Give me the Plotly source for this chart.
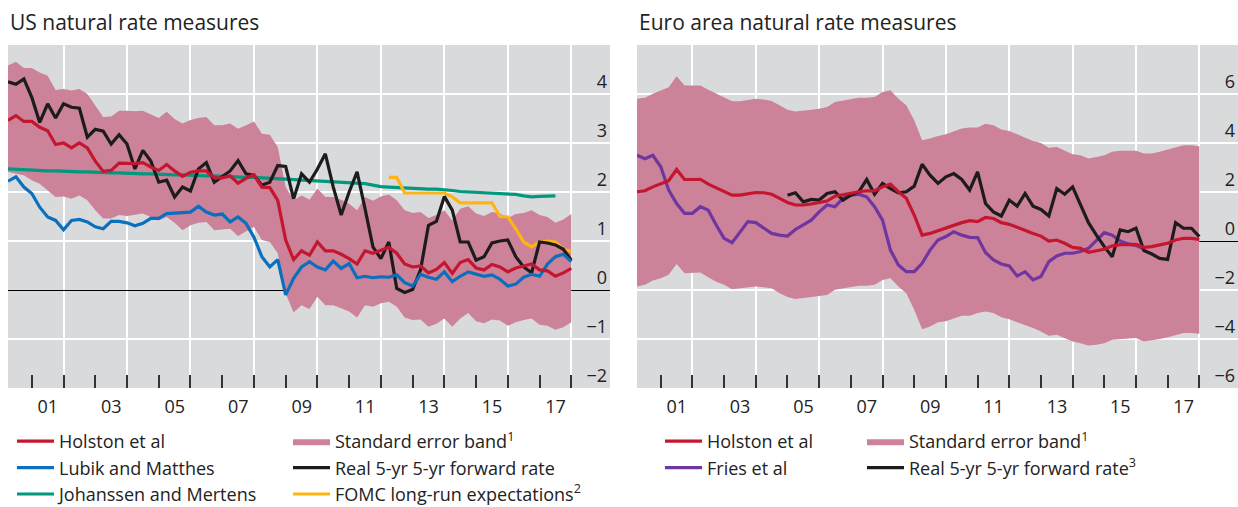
import pandas as pd
import plotly.graph_objects as go

# ---------------- time axis (quarterly, plotted at quarter end) ----------------
quarters = pd.period_range("2000Q1", "2017Q4", freq="Q")
t = [p.year + p.quarter / 4 for p in quarters]

# ---------------- US natural rate measures ----------------
us_holston = [3.46, 3.56, 3.44, 3.44, 3.32, 3.25, 2.97, 3.00, 2.90, 3.00,
              2.90, 2.63, 2.42, 2.44, 2.59, 2.58, 2.58, 2.60, 2.51, 2.44,
              2.56, 2.43, 2.32, 2.40, 2.43, 2.43, 2.29, 2.29, 2.33, 2.18,
              2.28, 2.35, 2.10, 2.09, 1.83, 1.02, 0.62, 0.80, 0.71, 0.98,
              0.80, 0.80, 0.73, 0.64, 0.53, 0.80, 0.75, 0.81, 0.87, 0.75,
              0.53, 0.47, 0.49, 0.35, 0.42, 0.56, 0.34, 0.56, 0.62, 0.45,
              0.41, 0.52, 0.47, 0.37, 0.45, 0.49, 0.53, 0.41, 0.39, 0.28,
              0.35, 0.44]
us_lubik = [2.22, 2.31, 2.10, 1.97, 1.69, 1.49, 1.42, 1.23, 1.42, 1.44,
            1.39, 1.29, 1.25, 1.40, 1.40, 1.37, 1.31, 1.36, 1.46, 1.46,
            1.56, 1.57, 1.59, 1.59, 1.71, 1.59, 1.53, 1.55, 1.39, 1.49,
            1.36, 1.08, 0.68, 0.47, 0.62, -0.10, 0.24, 0.47, 0.58, 0.47,
            0.41, 0.59, 0.44, 0.54, 0.25, 0.28, 0.25, 0.27, 0.26, 0.31,
            0.15, 0.08, 0.32, 0.26, 0.22, 0.37, 0.17, 0.28, 0.37, 0.32,
            0.28, 0.31, 0.22, 0.08, 0.12, 0.26, 0.32, 0.28, 0.53, 0.68,
            0.73, 0.58]
us_johanssen = [2.47, 2.46, 2.45, 2.45, 2.44, 2.43, 2.43, 2.42, 2.42, 2.41,
                2.41, 2.40, 2.40, 2.39, 2.39, 2.38, 2.38, 2.37, 2.37, 2.36,
                2.36, 2.35, 2.35, 2.34, 2.34, 2.33, 2.33, 2.32, 2.32, 2.31,
                2.30, 2.30, 2.29, 2.28, 2.27, 2.26, 2.25, 2.24, 2.24, 2.23,
                2.22, 2.21, 2.20, 2.19, 2.18, 2.17, 2.14, 2.11, 2.10, 2.09,
                2.08, 2.07, 2.07, 2.06, 2.06, 2.05, 2.03, 2.01, 2.00, 1.99,
                1.98, 1.97, 1.97, 1.96, 1.95, 1.92, 1.90, 1.91, 1.92, 1.92]
us_fomc = [2.30, 2.30, 1.98, 1.98, 1.98, 1.98, 1.98, 1.98, 1.90, 1.78,
           1.78, 1.78, 1.78, 1.78, 1.50, 1.49, 1.25, 0.98, 0.88, 0.98,
           1.00, 0.98, 0.83, 0.79]
us_fwd = [4.25, 4.20, 4.31, 3.93, 3.42, 3.80, 3.51, 3.80, 3.73, 3.71,
          3.12, 3.28, 3.24, 2.98, 3.17, 2.98, 2.47, 2.85, 2.63, 2.20,
          2.24, 1.90, 2.10, 2.02, 2.47, 2.60, 2.20, 2.31, 2.43, 2.64,
          2.37, 2.34, 2.14, 2.20, 2.54, 2.52, 1.86, 2.37, 2.20, 2.47,
          2.78, 2.10, 1.53, 2.00, 2.41, 1.66, 0.88, 0.64, 0.98, 0.03,
          -0.05, 0.01, 0.41, 1.32, 1.40, 1.91, 1.63, 0.98, 0.98, 0.61,
          0.68, 0.96, 1.00, 1.02, 0.68, 0.47, 0.35, 0.98, 0.96, 0.92,
          0.83, 0.61]
us_band_upper = [4.58, 4.66, 4.53, 4.53, 4.44, 4.37, 4.08, 4.10, 4.07, 4.10,
                 4.00, 3.76, 3.53, 3.54, 3.66, 3.66, 3.65, 3.66, 3.58, 3.51,
                 3.64, 3.49, 3.40, 3.47, 3.51, 3.53, 3.36, 3.36, 3.40, 3.29,
                 3.36, 3.44, 3.19, 3.17, 2.92, 2.10, 1.83, 1.93, 1.84, 2.07,
                 1.90, 1.90, 1.84, 1.76, 1.63, 1.90, 1.82, 1.91, 1.95, 1.83,
                 1.63, 1.57, 1.59, 1.47, 1.53, 1.63, 1.42, 1.66, 1.71, 1.56,
                 1.51, 1.59, 1.56, 1.47, 1.55, 1.57, 1.63, 1.53, 1.49, 1.37,
                 1.44, 1.55]
us_band_lower = [2.41, 2.37, 2.34, 2.24, 2.17, 2.03, 1.90, 1.91, 1.86, 1.93,
                 1.83, 1.63, 1.46, 1.46, 1.53, 1.51, 1.53, 1.56, 1.49, 1.42,
                 1.49, 1.37, 1.22, 1.32, 1.37, 1.39, 1.22, 1.23, 1.25, 1.10,
                 1.19, 1.29, 1.02, 0.98, 0.75, -0.07, -0.46, -0.31, -0.39, -0.14,
                 -0.31, -0.31, -0.37, -0.44, -0.56, -0.31, -0.34, -0.27, -0.24, -0.34,
                 -0.56, -0.61, -0.60, -0.75, -0.69, -0.58, -0.75, -0.58, -0.47, -0.64,
                 -0.68, -0.60, -0.62, -0.73, -0.66, -0.61, -0.58, -0.71, -0.73, -0.81,
                 -0.76, -0.66]

# ---------------- Euro area natural rate measures ----------------
ea_holston = [2.01, 2.05, 2.21, 2.35, 2.46, 2.92, 2.51, 2.51, 2.52, 2.32,
              2.17, 2.05, 1.87, 1.87, 1.94, 1.98, 1.97, 1.91, 1.74, 1.57,
              1.47, 1.47, 1.51, 1.56, 1.63, 1.83, 1.90, 1.97, 2.01, 2.05,
              2.05, 2.21, 2.32, 2.01, 1.74, 1.06, 0.24, 0.31, 0.42, 0.56,
              0.65, 0.75, 0.83, 0.79, 0.96, 0.92, 0.75, 0.68, 0.56, 0.42,
              0.31, 0.20, 0.00, 0.04, -0.09, -0.26, -0.30, -0.46, -0.39, -0.34,
              -0.20, -0.15, -0.15, -0.14, -0.26, -0.23, -0.16, -0.09, 0.04, 0.11,
              0.11, 0.07]
ea_fries = [3.50, 3.36, 3.50, 3.03, 2.08, 1.53, 1.13, 1.13, 1.40, 1.26,
            0.65, 0.11, -0.07, 0.38, 0.79, 0.75, 0.52, 0.31, 0.24, 0.20,
            0.47, 0.65, 0.85, 1.19, 1.47, 1.40, 1.74, 1.87, 1.91, 1.80,
            1.40, 0.85, -0.37, -0.98, -1.25, -1.25, -0.91, -0.37, 0.04, 0.18,
            0.38, 0.24, 0.15, 0.14, -0.47, -0.77, -0.94, -1.02, -1.43, -1.25,
            -1.59, -1.45, -0.84, -0.61, -0.50, -0.50, -0.43, -0.30, 0.04, 0.34,
            0.24, 0.00, -0.12, -0.18, -0.33]
ea_fwd = [1.87, 1.97, 1.60, 1.70, 1.67, 1.94, 2.01, 1.67, 1.87, 2.01,
          2.51, 1.91, 2.35, 2.14, 1.97, 2.01, 2.24, 3.13, 2.69, 2.35,
          2.62, 2.75, 2.51, 2.08, 2.82, 1.53, 1.19, 1.02, 1.67, 1.42,
          1.94, 1.42, 1.29, 1.02, 2.14, 1.91, 2.21, 1.47, 0.75, 0.24,
          -0.23, -0.64, 0.45, 0.38, 0.52, -0.39, -0.53, -0.71, -0.75, 0.75,
          0.52, 0.52, 0.18]
ea_band_upper = [5.81, 5.85, 6.01, 6.15, 6.28, 6.72, 6.35, 6.35, 6.35, 6.17,
                 6.01, 5.88, 5.70, 5.70, 5.77, 5.81, 5.78, 5.71, 5.54, 5.36,
                 5.29, 5.31, 5.36, 5.40, 5.47, 5.67, 5.74, 5.81, 5.85, 5.85,
                 5.88, 6.08, 6.15, 5.81, 5.54, 4.93, 4.11, 4.18, 4.29, 4.36,
                 4.49, 4.59, 4.63, 4.63, 4.79, 4.72, 4.55, 4.49, 4.36, 4.22,
                 4.08, 4.00, 3.81, 3.84, 3.70, 3.54, 3.50, 3.37, 3.43, 3.50,
                 3.64, 3.68, 3.68, 3.68, 3.57, 3.57, 3.64, 3.73, 3.84, 3.91,
                 3.91, 3.87]
ea_band_lower = [-1.86, -1.79, -1.61, -1.52, -1.38, -0.94, -1.32, -1.32, -1.29, -1.48,
                 -1.66, -1.79, -1.97, -1.93, -1.89, -1.86, -1.89, -1.93, -2.13, -2.29,
                 -2.37, -2.33, -2.29, -2.27, -2.20, -1.99, -1.93, -1.86, -1.83, -1.83,
                 -1.79, -1.59, -1.52, -1.86, -2.13, -2.81, -3.60, -3.49, -3.32, -3.28,
                 -3.15, -3.05, -3.05, -2.94, -2.88, -2.94, -3.11, -3.19, -3.32, -3.42,
                 -3.55, -3.69, -3.87, -3.83, -3.96, -4.10, -4.17, -4.27, -4.23, -4.17,
                 -4.03, -4.00, -4.00, -3.96, -4.10, -4.06, -4.00, -3.93, -3.83, -3.76,
                 -3.76, -3.79]

# tick labels
year_ticks = [2001, 2003, 2005, 2007, 2009, 2011, 2013, 2015, 2017]
year_labels = ["01", "03", "05", "07", "09", "11", "13", "15", "17"]
grid_years = [2002, 2004, 2006, 2008, 2010, 2012, 2014, 2016, 2018]
us_yticks = [-2, -1, 0, 1, 2, 3, 4]
ea_yticks = [-6, -4, -2, 0, 2, 4, 6]

# ---------------- style ----------------
FONT = "Open Sans"
TXT = "#222222"
BG = "#D9DADC"
BAND = "#CC8298"
RED = "#C4162F"
BLUE = "#0A70BE"
GREEN = "#00997F"
ORANGE = "#FDB515"
BLACK = "#1C1C1C"
PURPLE = "#7036A0"
LW = 3.2

fig = go.Figure()


def band(x, lo, hi, xa, ya, legend):
    fig.add_trace(go.Scatter(x=x, y=lo, mode="lines", line=dict(width=0, color=BAND),
                             xaxis=xa, yaxis=ya, showlegend=False, hoverinfo="skip"))
    fig.add_trace(go.Scatter(x=x, y=hi, mode="lines", line=dict(width=0, color=BAND),
                             fill="tonexty", fillcolor=BAND, xaxis=xa, yaxis=ya,
                             name="Standard error band<sup>1</sup>", legend=legend,
                             legendrank=1))


def line(x, y, color, name, xa, ya, legend, rank):
    fig.add_trace(go.Scatter(x=x, y=y, mode="lines", line=dict(color=color, width=LW),
                             name=name, xaxis=xa, yaxis=ya, legend=legend,
                             legendrank=rank))


# US panel
band(t, us_band_lower, us_band_upper, "x", "y", "legend2")
line(t[:len(us_johanssen)], us_johanssen, GREEN, "Johanssen and Mertens", "x", "y", "legend", 3)
line(t[48:48 + len(us_fomc)], us_fomc, ORANGE, "FOMC long-run expectations<sup>2</sup>", "x", "y", "legend2", 3)
line(t, us_fwd, BLACK, "Real 5-yr 5-yr forward rate", "x", "y", "legend2", 2)
line(t, us_lubik, BLUE, "Lubik and Matthes", "x", "y", "legend", 2)
line(t, us_holston, RED, "Holston et al", "x", "y", "legend", 1)

# Euro area panel
band(t, ea_band_lower, ea_band_upper, "x2", "y2", "legend4")
line(t[:len(ea_fries)], ea_fries, PURPLE, "Fries et al", "x2", "y2", "legend3", 2)
line(t[19:19 + len(ea_fwd)], ea_fwd, BLACK, "Real 5-yr 5-yr forward rate<sup>3</sup>", "x2", "y2", "legend4", 2)
line(t, ea_holston, RED, "Holston et al", "x2", "y2", "legend3", 1)

W, H = 1238, 507
ML, MR, MT, MB = 8, 0, 45, 119
PW = W - ML - MR
PH = H - MT - MB


def px_x(p):
    return (p - ML) / PW


def px_y(p):
    return (H - MB - p) / PH


xaxis_common = dict(
    range=[2000.25, 2019.22],
    tickmode="array", tickvals=year_ticks, ticktext=year_labels,
    ticks="inside", ticklen=13, tickwidth=1.5, tickcolor="#333333",
    ticklabelshift=16, ticklabelstandoff=6,
    showgrid=False, zeroline=False, showline=False, automargin=False,
    tickfont=dict(family=FONT, size=18, color=TXT),
    minor=dict(tickmode="array", tickvals=grid_years, ticks="inside", ticklen=13,
               tickwidth=1.5, tickcolor="#333333", showgrid=True,
               gridcolor="white", gridwidth=1.5),
    fixedrange=True,
)
yaxis_common = dict(
    side="right", ticks="", ticklabelposition="inside top",
    showgrid=True, gridcolor="white", gridwidth=1.5,
    zeroline=True, zerolinecolor="black", zerolinewidth=1.2,
    showline=False, automargin=False, tickfont=dict(family=FONT, size=18, color=TXT),
    fixedrange=True,
)

legend_common = dict(
    orientation="v", xanchor="left", yanchor="top", traceorder="normal",
    bgcolor="rgba(0,0,0,0)", borderwidth=0,
    font=dict(family=FONT, size=18, color=TXT),
    itemwidth=37, tracegroupgap=0,
)
leg_top = px_y(423)

fig.update_layout(
    width=W, height=H,
    margin=dict(l=ML, r=MR, t=MT, b=MB, autoexpand=False),
    paper_bgcolor="white", plot_bgcolor=BG,
    font=dict(family=FONT, color=TXT),
    xaxis=dict(domain=[0, px_x(610)], anchor="y", **xaxis_common),
    xaxis2=dict(domain=[px_x(637), 1], anchor="y2", **xaxis_common),
    yaxis=dict(domain=[0, 1], anchor="x", range=[-2, 5], tickvals=us_yticks, **yaxis_common),
    yaxis2=dict(domain=[0, 1], anchor="x2", range=[-6, 8], tickvals=ea_yticks, **yaxis_common),
    legend=dict(x=px_x(12), y=leg_top, **legend_common),
    legend2=dict(x=px_x(288), y=leg_top, **legend_common),
    legend3=dict(x=px_x(660), y=leg_top, **legend_common),
    legend4=dict(x=px_x(862), y=leg_top, **legend_common),
    annotations=[
        dict(text="US natural rate measures", x=0, y=px_y(22), xref="paper", yref="paper",
             xanchor="left", yanchor="middle", showarrow=False,
             font=dict(family=FONT, size=21, color=TXT)),
        dict(text="Euro area natural rate measures", x=px_x(637), y=px_y(22),
             xref="paper", yref="paper", xanchor="left", yanchor="middle",
             showarrow=False, font=dict(family=FONT, size=21, color=TXT)),
    ],
    showlegend=True,
)

fig.write_html("out.html", config={"displayModeBar": False},
               post_script="document.body.style.margin='0';")
